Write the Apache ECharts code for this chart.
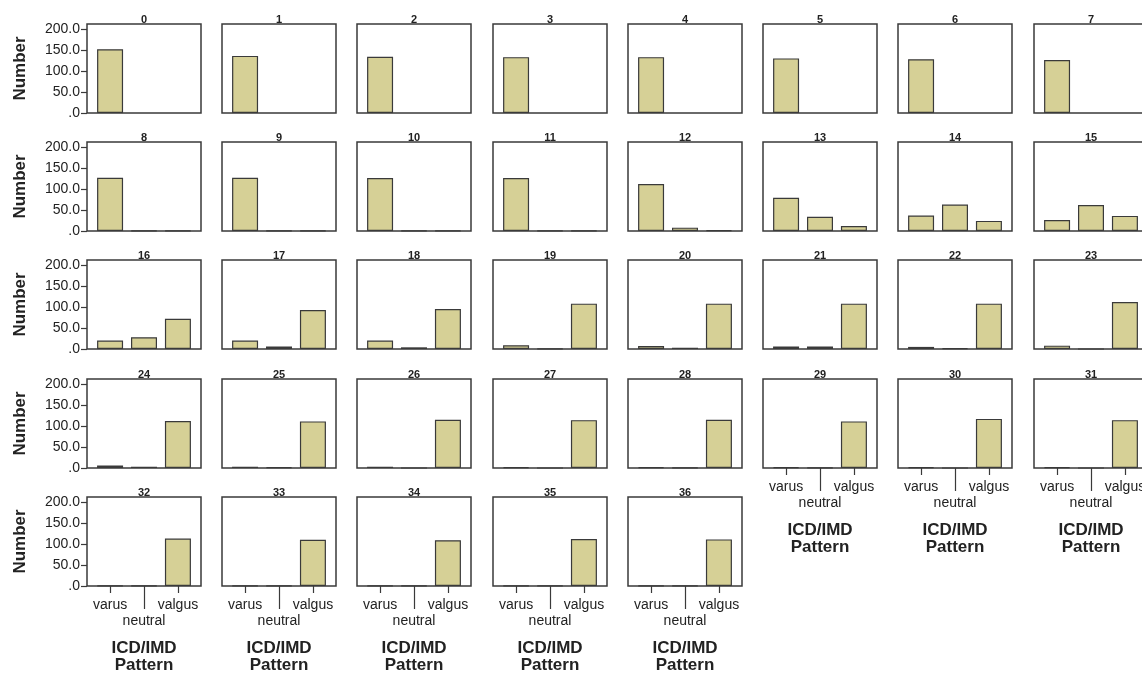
<!DOCTYPE html>
<html>
<head>
<meta charset="utf-8">
<script src="https://cdn.jsdelivr.net/npm/echarts@6/dist/echarts.min.js"></script>
<style>
  html, body { margin: 0; padding: 0; background: #fff; }
  #chart { width: 1142px; height: 676px; }
</style>
</head>
<body>
<div id="chart"></div>
<script>
// panel labels and counts per ICD/IMD pattern
const panelNames = ['0', '1', '2', '3', '4', '5', '6', '7',
  '8', '9', '10', '11', '12', '13', '14', '15',
  '16', '17', '18', '19', '20', '21', '22', '23',
  '24', '25', '26', '27', '28', '29', '30', '31',
  '32', '33', '34', '35', '36']
const categories = ['varus', 'neutral', 'valgus']
const varus = [152, 136, 134, 133, 133, 130, 128, 126,
  127, 127, 126, 126, 112, 79, 37, 26,
  20, 20, 20, 9, 7, 6, 5, 8,
  6, 3, 3, 2, 2, 2, 2, 2,
  1, 1, 1, 1, 1]
const neutral = [null, null, null, null, null, null, null, null,
  1, 1, 1, 1, 8, 34, 63, 62,
  28, 6, 4, 1, 3, 6, 2, 0,
  3, 2, 0, 0, 1, 1, 0, 0,
  1, 1, 1, 1, 1]
const valgus = [null, null, null, null, null, null, null, null,
  1, 1, 1, 1, 2, 12, 24, 36,
  72, 93, 95, 108, 108, 108, 108, 112,
  112, 111, 115, 114, 115, 111, 117, 114,
  113, 110, 109, 112, 111]
const yTicks = [0, 50, 100, 150, 200]

// layout of the small multiples
const colLeft = [87, 222, 357, 493, 628, 763, 898, 1034]
const rowTop = [24, 142, 260, 379, 497]
const boxW = 114
const boxH = 89
const font = "'Liberation Sans', Arial, sans-serif"
const ink = '#222'
const lineColor = '#3a3a3a'

const chart = echarts.init(document.getElementById('chart'))

const grid = []
const xAxis = []
const yAxis = []
const title = []
const series = []
const byCategory = [varus, neutral, valgus]

panelNames.forEach((name, i) => {
  const col = i % 8
  const row = Math.floor(i / 8)
  const left = colLeft[col]
  const top = rowTop[row]
  const showX = i >= 29
  const showY = col === 0

  grid.push({
    left: left, top: top, width: boxW, height: boxH, outerBoundsMode: 'none',
    show: true, borderColor: lineColor, borderWidth: 1.5, backgroundColor: '#fff'
  })
  title.push({
    text: name, left: left + boxW / 2, top: top - 10, textAlign: 'center', padding: 0,
    textStyle: {fontFamily: font, fontSize: 11, fontWeight: 'bold', color: ink, lineHeight: 11}
  })
  // main x axis: short ticks + varus / valgus labels
  xAxis.push({
    gridIndex: i, type: 'value', position: 'bottom', min: -0.68, max: 2.68,
    axisLine: {show: false, onZero: false}, splitLine: {show: false},
    axisTick: {show: showX, customValues: [0, 2], length: 7, lineStyle: {color: lineColor, width: 1.2}},
    axisLabel: {
      show: showX, customValues: [0, 2], margin: 11, lineHeight: 16, hideOverlap: false,
      fontFamily: font, fontSize: 14, color: ink,
      formatter: v => categories[Math.round(v)]
    },
    name: showX ? 'ICD/IMD\nPattern' : '', nameLocation: 'middle', nameGap: 54,
    nameTextStyle: {fontFamily: font, fontSize: 17, fontWeight: 'bold', color: ink, lineHeight: 17}
  })
  // second x axis: long tick + staggered "neutral" label
  xAxis.push({
    gridIndex: i, type: 'value', position: 'bottom', min: -0.68, max: 2.68,
    axisLine: {show: false, onZero: false}, splitLine: {show: false},
    axisTick: {show: showX, customValues: [1], length: 23, lineStyle: {color: lineColor, width: 1.2}},
    axisLabel: {
      show: showX, customValues: [1], margin: 27, lineHeight: 16, hideOverlap: false,
      fontFamily: font, fontSize: 14, color: ink,
      formatter: v => categories[Math.round(v)]
    }
  })
  yAxis.push({
    gridIndex: i, type: 'value', position: 'left', min: 0, max: 212,
    axisLine: {show: false, onZero: false}, splitLine: {show: false},
    axisTick: {show: showY, customValues: yTicks, length: 6, lineStyle: {color: lineColor, width: 1.2}},
    axisLabel: {
      show: showY, customValues: yTicks, margin: 7, hideOverlap: false,
      fontFamily: font, fontSize: 14, color: ink,
      formatter: v => v === 0 ? '.0' : v.toFixed(1)
    },
    name: showY ? 'Number' : '', nameLocation: 'middle', nameGap: 58, nameRotate: 90,
    nameTextStyle: {fontFamily: font, fontSize: 17, fontWeight: 'bold', color: ink}
  })
  series.push({
    type: 'bar', xAxisIndex: 2 * i, yAxisIndex: i, barWidth: 26,
    itemStyle: {color: '#d6d096', borderColor: lineColor, borderWidth: 1.2},
    data: categories.map((c, k) => [k, byCategory[k][i]]).filter(d => d[1] !== null)
  })
})

chart.setOption({
  animation: false,
  backgroundColor: '#fff',
  title: title,
  grid: grid,
  xAxis: xAxis,
  yAxis: yAxis,
  series: series
})
</script>
</body>
</html>
